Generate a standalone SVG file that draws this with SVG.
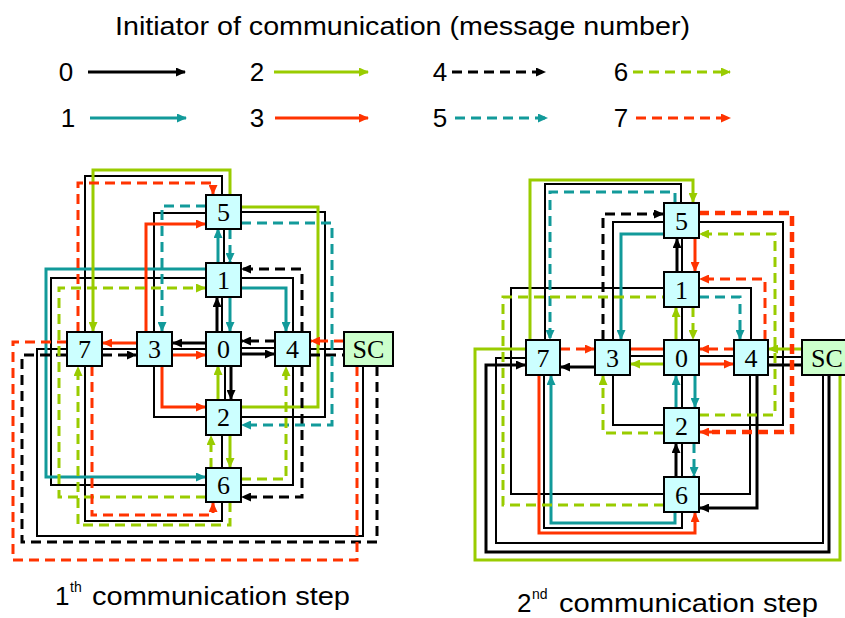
<svg xmlns="http://www.w3.org/2000/svg" width="845" height="618" viewBox="0 0 845 618">
<defs>
<marker id="ak" viewBox="0 0 10 9" refX="9" refY="4.5" markerWidth="10" markerHeight="9" markerUnits="userSpaceOnUse" orient="auto"><path d="M0,0 L10,4.5 L0,9 z" fill="#000"/></marker>
<marker id="at" viewBox="0 0 10 9" refX="9" refY="4.5" markerWidth="10" markerHeight="9" markerUnits="userSpaceOnUse" orient="auto"><path d="M0,0 L10,4.5 L0,9 z" fill="#129a9a"/></marker>
<marker id="ag" viewBox="0 0 10 9" refX="9" refY="4.5" markerWidth="10" markerHeight="9" markerUnits="userSpaceOnUse" orient="auto"><path d="M0,0 L10,4.5 L0,9 z" fill="#99cc00"/></marker>
<marker id="ar" viewBox="0 0 10 9" refX="9" refY="4.5" markerWidth="10" markerHeight="9" markerUnits="userSpaceOnUse" orient="auto"><path d="M0,0 L10,4.5 L0,9 z" fill="#ff3300"/></marker>
<style>
.ln{fill:none;stroke:#000;stroke-width:2}
.m{fill:none;stroke-width:3}
.k{stroke:#000}.t{stroke:#129a9a}.g{stroke:#99cc00}.r{stroke:#ff3300}
.d{stroke-dasharray:10 6}
.ak{marker-end:url(#ak)}.at{marker-end:url(#at)}.ag{marker-end:url(#ag)}.ar{marker-end:url(#ar)}
.box{fill:#ccffff;stroke:#000;stroke-width:2}
.sc{fill:#ccffcc;stroke:#000;stroke-width:2}
.lbl{font-family:"Liberation Serif","Times New Roman",serif;font-size:26px;text-anchor:middle;fill:#000}
.cap{font-family:"Liberation Sans",Arial,sans-serif;fill:#000}
.dig{font-family:"Liberation Sans",Arial,sans-serif;font-size:26px;text-anchor:middle;fill:#000}
</style>
</defs>
<rect width="845" height="618" fill="#fff"/>

<g id="legend">
<text class="cap" x="115" y="35" font-size="26" textLength="575" lengthAdjust="spacingAndGlyphs">Initiator of communication (message number)</text>
<text class="dig" x="66" y="81">0</text>
<text class="dig" x="68" y="127">1</text>
<text class="dig" x="257" y="81">2</text>
<text class="dig" x="257" y="127">3</text>
<text class="dig" x="440" y="81">4</text>
<text class="dig" x="440" y="127">5</text>
<text class="dig" x="621" y="81">6</text>
<text class="dig" x="621" y="127">7</text>
<path class="m k ak" d="M88,72 H185"/>
<path class="m g ag" d="M274,72 H368"/>
<path class="m k d ak" d="M452,72 H545"/>
<path class="m g d ag" d="M633,72 H730"/>
<path class="m t at" d="M90,118 H186"/>
<path class="m r ar" d="M275,118 H368"/>
<path class="m t d at" d="M455,118 H547"/>
<path class="m r d ar" d="M636,118 H730"/>
</g>

<g id="connectors-step1">
<path class="ln" d="M85,332 V176 H222 V195"/>
<path class="ln" d="M154,332 V213 H206"/>
<path class="ln" d="M241,212 H325 V417 H241"/>
<path class="ln" d="M154,366 V417 H206"/>
<path class="ln" d="M206,278 H51 V485 H206"/>
<path class="ln" d="M241,278 H293 V332"/>
<path class="ln" d="M293,366 V485 H241"/>
<path class="ln" d="M224,229 V263"/>
<path class="ln" d="M222,297 V332"/>
<path class="ln" d="M225,366 V400"/>
<path class="ln" d="M222,435 V468"/>
<path class="ln" d="M102,349 H137"/>
<path class="ln" d="M172,349 H206"/>
<path class="ln" d="M241,348 H275"/>
<path class="ln" d="M310,349 H344"/>
<path class="ln" d="M67,349 H37 V536 H363 V366"/>
<path class="ln" d="M85,366 V521 H222 V502"/>
<path class="m k ak" d="M217,332 V298"/>
<path class="m k ak" d="M231,366 V399"/>
<path class="m k ak" d="M206,343 H173"/>
<path class="m k ak" d="M241,354 H274"/>
<path class="m t at" d="M218,263 V229"/>
<path class="m t at" d="M230,297 V331"/>
<path class="m t at" d="M241,288 H286 V331"/>
<path class="m t at" d="M206,269 H46 V477 H205"/>
<path class="m g ag" d="M218,400 V366"/>
<path class="m g ag" d="M230,435 V467"/>
<path class="m g" d="M241,407 H318 V207 H241"/>
<path class="m g ag" d="M230,195 V170 H93 V331"/>
<path class="m r ar" d="M137,343 H103"/>
<path class="m r ar" d="M172,355 H205"/>
<path class="m r ar" d="M162,366 V407 H205"/>
<path class="m r ar" d="M146,332 V224 H205"/>
<path class="m k d ak" d="M275,341 H242"/>
<path class="m k d ak" d="M302,332 V269 H242"/>
<path class="m k d ak" d="M302,366 V497 H242"/>
<path class="m k d" d="M310,355 H344"/>
<path class="m k d" d="M377,366 V542 H22 V355 H67"/>
<path class="m k d ak" d="M102,355 H136"/>
<path class="m t d at" d="M230,229 V262"/>
<path class="m t d at" d="M206,206 H162 V331"/>
<path class="m t d at" d="M241,223 H332 V425 H242"/>
<path class="m g d ag" d="M211,468 V436"/>
<path class="m g d ag" d="M241,479 H286 V367"/>
<path class="m g d ag" d="M206,497 H59 V288 H205"/>
<path class="m g d ag" d="M230,502 V525 H78 V367"/>
<path class="m r d ar" d="M78,332 V183 H213 V194"/>
<path class="m r d ar" d="M92,366 V515 H213 V503"/>
<path class="m r d" d="M67,342 H13 V560 H357 V366"/>
<path class="m r d ar" d="M344,341 H311"/>
</g>

<g id="step1-n5"><rect class="box" x="206" y="195" width="35" height="34"/><text class="lbl" x="223.5" y="221">5</text></g>
<g id="step1-n1"><rect class="box" x="206" y="263" width="35" height="34"/><text class="lbl" x="223.5" y="289">1</text></g>
<g id="step1-n7"><rect class="box" x="67" y="332" width="35" height="34"/><text class="lbl" x="84.5" y="358">7</text></g>
<g id="step1-n3"><rect class="box" x="137" y="332" width="35" height="34"/><text class="lbl" x="154.5" y="358">3</text></g>
<g id="step1-n0"><rect class="box" x="206" y="332" width="35" height="34"/><text class="lbl" x="223.5" y="358">0</text></g>
<g id="step1-n4"><rect class="box" x="275" y="332" width="35" height="34"/><text class="lbl" x="292.5" y="358">4</text></g>
<g id="step1-sc"><rect class="sc" x="344" y="332" width="49" height="34"/><text class="lbl" x="368.5" y="358">SC</text></g>
<g id="step1-n2"><rect class="box" x="206" y="400" width="35" height="35"/><text class="lbl" x="223.5" y="426">2</text></g>
<g id="step1-n6"><rect class="box" x="206" y="468" width="35" height="34"/><text class="lbl" x="223.5" y="494">6</text></g>

<g id="connectors-step2">
<path class="ln" d="M545,340 V184 H681 V203"/>
<path class="ln" d="M613,340 V222 H664"/>
<path class="ln" d="M699,222 H783 V425 H699"/>
<path class="ln" d="M613,375 V425 H664"/>
<path class="ln" d="M664,288 H511 V494 H664"/>
<path class="ln" d="M699,288 H751 V340"/>
<path class="ln" d="M750,375 V494 H699"/>
<path class="ln" d="M682,238 V272"/>
<path class="ln" d="M682,307 V340"/>
<path class="ln" d="M682,375 V408"/>
<path class="ln" d="M682,443 V477"/>
<path class="ln" d="M630,356 H664"/>
<path class="ln" d="M699,356 H734"/>
<path class="ln" d="M768,357 H802"/>
<path class="ln" d="M526,358 H496 V543 H823 V375"/>
<path class="ln" d="M544,375 V528 H682 V512"/>
<path class="m g" d="M840,375 V560 H475 V349 H526"/>
<path class="m g ag" d="M530,340 V180 H693 V202"/>
<path class="m g ag" d="M802,349 H769"/>
<path class="m g ag" d="M676,340 V308"/>
<path class="m g ag" d="M664,364 H631"/>
<path class="m k ak" d="M677,272 V239"/>
<path class="m k ak" d="M595,367 H561"/>
<path class="m k" d="M768,365 H802"/>
<path class="m k ak" d="M829,375 V552 H486 V365 H525"/>
<path class="m k ak" d="M757,375 V508 H700"/>
<path class="m k ak" d="M676,477 V444"/>
<path class="m t at" d="M664,234 H621 V339"/>
<path class="m t at" d="M676,408 V376"/>
<path class="m t at" d="M695,375 V407"/>
<path class="m t at" d="M675,512 V523 H551 V376"/>
<path class="m r ar" d="M695,238 V271"/>
<path class="m r" d="M630,349 H664"/>
<path class="m r ar" d="M699,364 H733"/>
<path class="m r ar" d="M539,375 V533 H695 V513"/>
<path class="m k d ak" d="M603,340 V214 H663"/>
<path class="m t d at" d="M675,203 V192 H550 V339"/>
<path class="m t d at" d="M699,297 H740 V339"/>
<path class="m t d at" d="M694,443 V476"/>
<path class="m g d ag" d="M699,415 H775 V234 H700"/>
<path class="m g d ag" d="M664,433 H603 V376"/>
<path class="m g d" d="M664,505 H503 V297 H664"/>
<path class="m g d ag" d="M693,307 V339"/>
<path class="m r d ar" d="M560,349 H594"/>
<path class="m r d ar" d="M734,349 H700"/>
<path class="m r d ar" d="M765,340 V279 H700"/>
<path class="r d" fill="none" stroke-width="4.5" d="M699,213 H792 V432 H712"/>
<path class="m r ar" d="M712,432 H700"/>
</g>

<g id="step2-n5"><rect class="box" x="664" y="203" width="35" height="35"/><text class="lbl" x="681.5" y="230">5</text></g>
<g id="step2-n1"><rect class="box" x="664" y="272" width="35" height="35"/><text class="lbl" x="681.5" y="299">1</text></g>
<g id="step2-n7"><rect class="box" x="526" y="340" width="34" height="35"/><text class="lbl" x="543" y="367">7</text></g>
<g id="step2-n3"><rect class="box" x="595" y="340" width="35" height="35"/><text class="lbl" x="612.5" y="367">3</text></g>
<g id="step2-n0"><rect class="box" x="664" y="340" width="35" height="35"/><text class="lbl" x="681.5" y="367">0</text></g>
<g id="step2-n4"><rect class="box" x="734" y="340" width="34" height="35"/><text class="lbl" x="751" y="367">4</text></g>
<g id="step2-sc"><rect class="sc" x="802" y="340" width="50" height="35"/><text class="lbl" x="827" y="367">SC</text></g>
<g id="step2-n2"><rect class="box" x="664" y="408" width="35" height="35"/><text class="lbl" x="681.5" y="435">2</text></g>
<g id="step2-n6"><rect class="box" x="664" y="477" width="35" height="35"/><text class="lbl" x="681.5" y="504">6</text></g>

<g id="captions">
<text class="cap" x="55" y="605" font-size="26">1</text>
<text class="cap" x="70" y="592" font-size="14">th</text>
<text class="cap" x="92" y="605" font-size="26" textLength="258" lengthAdjust="spacingAndGlyphs">communication step</text>
<text class="cap" x="517" y="612" font-size="26">2</text>
<text class="cap" x="532" y="599" font-size="14">nd</text>
<text class="cap" x="559" y="612" font-size="26" textLength="259" lengthAdjust="spacingAndGlyphs">communication step</text>
</g>
</svg>
